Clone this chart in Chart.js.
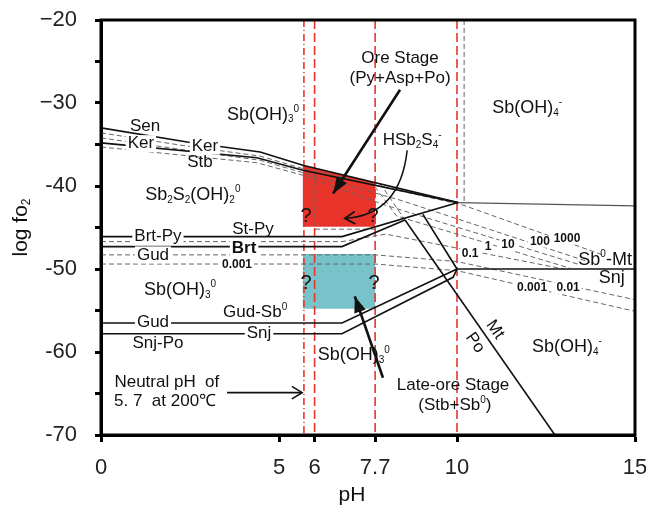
<!DOCTYPE html>
<html>
<head>
<meta charset="utf-8">
<script src="https://cdn.jsdelivr.net/npm/chart.js@4.4.0/dist/chart.umd.min.js"></script>
<style>
html, body { margin: 0; padding: 0; background: #fff; }
</style>
</head>
<body>
<canvas id="diagram" width="646" height="507"></canvas>
<script>
var FONT = '"Liberation Sans", Arial, sans-serif';

// axis ticks
var xTicks = [0, 5, 6, 7.7, 10, 15];
var yTicks = [-20, -25, -30, -35, -40, -45, -50, -55, -60, -65, -70];
var yTickLabels = {"-20": "\u221220", "-30": "\u221230", "-40": "-40", "-50": "-50", "-60": "-60", "-70": "-70"};

// solid phase boundaries [pH, log fO2]
var senLine = [[0, -33.0], [2.42, -34.7], [4.47, -35.9], [5.67, -37.5], [10.03, -42.0]];
var stbLine = [[0, -34.8], [4.38, -36.6], [5.67, -38.1], [10.03, -42.0]];
var stPyLine = [[0, -46.1], [6.77, -46.1], [10.03, -42.0]];
var brtLine = [[0, -47.3], [6.77, -47.3], [8.54, -44.1]];
var mtPoLine = [[8.54, -44.1], [12.75, -70]];
var poSnjLine = [[9.04, -43.4], [10.0, -50.0]];
var gudLine = [[0, -56.5], [6.77, -56.5], [10.0, -50.0]];
var snjLine = [[0, -57.8], [6.77, -57.8], [9.89, -51.0], [10.0, -50.0]];
var topRightLine = [[10.03, -42.0], [15, -42.4]];
var sbMtLine = [[10.0, -50.0], [15, -50.0]];

// dashed activity lines
var dash1000 = [[0, -33.6], [2.42, -35.2], [4.47, -36.4], [5.67, -37.9], [10.17, -42.3], [14.16, -48.4]];
var dash100 = [[0, -34.2], [2.42, -35.7], [4.47, -36.9], [5.67, -38.4], [8.4, -41.7], [13.74, -49.2]];
var dash10 = [[0, -35.3], [4.38, -37.2], [5.67, -38.7], [7.98, -42.3], [13.46, -49.5]];
var dash1 = [[7.7, -40.1], [8.3, -43.6], [13.17, -49.9]];
var dash01 = [[0, -46.7], [6.77, -46.7], [8.0, -45.8], [13.0, -50.0]];
var dash001 = [[0, -48.3], [7.7, -48.3], [10.0, -49.1], [15, -53.7]];
var dash0001 = [[0, -49.4], [7.7, -49.4], [10.0, -50.2], [15, -55.1]];
var dashMt = [[7.84, -39.7], [8.54, -44.1]];
var dashBoxV = [[6.01, -38.5], [6.01, -45.2]];
var dashBoxH = [[6.01, -45.2], [7.7, -45.2]];
var dashPh = [[10.2, -20], [10.2, -42.2]];

// red reference pH lines
var redPh = [5.7, 6.0, 7.7, 10.0];

// ore stage boxes
var oreBox = [[5.67, -37.5], [7.7, -39.6], [7.7, -44.9], [5.67, -44.9]];
var lateBox = [[5.67, -48.2], [7.7, -48.2], [7.7, -54.8], [5.67, -54.8]];

// text labels: text (_ sub, ^ sup), pH, log fO2, size
var labels = [
  ['Sb(OH)_3^0', 4.55, -31.4, 18],
  ['Sb(OH)_4^-', 11.97, -30.6, 18],
  ['Ore Stage', 8.40, -24.6, 17],
  ['(Py+Asp+Po)', 8.40, -27.0, 17],
  ['HSb_2S_4^-', 8.74, -34.5, 17],
  ['Sb_2S_2(OH)_2^0', 2.58, -41.1, 18],
  ['Sen', 1.24, -32.8, 17],
  ['Stb', 2.78, -37.2, 17],
  ['St-Py', 4.27, -45.2, 17],
  ['Sb(OH)_3^0', 2.22, -52.5, 18],
  ['Gud-Sb^0', 4.33, -55.2, 17],
  ['Snj-Po', 1.60, -59.0, 17],
  ['Neutral pH  of', 1.85, -63.7, 17],
  ['5. 7  at 200\u2103', 1.80, -66.0, 17],
  ['Sb(OH)_3^0', 7.10, -60.4, 18],
  ['Late-ore Stage', 9.89, -64.0, 17],
  ['(Stb+Sb^0)', 9.94, -66.4, 17],
  ['Sb(OH)_4^-', 13.09, -59.4, 18],
  ['Sb^0-Mt', 14.16, -48.9, 18],
  ['Snj', 14.35, -51.1, 18],
  ['?', 5.76, -43.7, 20],
  ['?', 7.64, -43.7, 20],
  ['?', 5.76, -51.7, 20],
  ['?', 7.67, -51.7, 20]
];
// labels sitting on a line (white behind them)
var lineLabels = [
  ['Ker', 1.12, -34.9, 17, false],
  ['Ker', 2.92, -35.2, 17, false],
  ['Brt-Py', 1.60, -46.1, 17, false],
  ['Brt', 4.02, -47.5, 17, true],
  ['Gud', 1.46, -48.3, 17, false],
  ['0.001', 3.82, -49.5, 12, true],
  ['Gud', 1.46, -56.4, 17, false],
  ['Snj', 4.44, -57.7, 17, false],
  ['1000', 13.09, -46.3, 12, true],
  ['100', 12.33, -46.7, 12, true],
  ['10', 11.43, -47.1, 12, true],
  ['1', 10.87, -47.3, 12, true],
  ['0.1', 10.37, -48.1, 12, true],
  ['0.001', 12.11, -52.3, 12, true],
  ['0.01', 13.12, -52.3, 12, true]
];
var rotLabels = [['Mt', 11.07, -57.3], ['Po', 10.51, -58.9]];

// arrows: from, to, head type
var arrows = [
  [[8.40, -28.4], [6.52, -40.9], 'solid'],
  [[7.92, -63.1], [7.13, -53.3], 'solid'],
  [[3.54, -64.9], [5.65, -64.9], 'open']
];
var curvedArrow = [[8.60, -35.7], [8.40, -43.5], [6.85, -43.9]];

function pts(a) {
  return a.map(function (p) { return {x: p[0], y: p[1]}; });
}

var datasets = [];
function solid(a) {
  datasets.push({data: pts(a), showLine: true, borderColor: '#111', borderWidth: 1.6, pointRadius: 0, fill: false, order: 0});
}
function dashed(a) {
  datasets.push({data: pts(a), showLine: true, borderColor: '#666', borderWidth: 1, borderDash: [5, 3], pointRadius: 0, fill: false, order: 0});
}
[senLine, stbLine, stPyLine, brtLine, mtPoLine, poSnjLine, gudLine, snjLine, sbMtLine].forEach(solid);
datasets.push({data: pts(topRightLine), showLine: true, borderColor: '#555', borderWidth: 1.3, pointRadius: 0, order: 0});
[dash1000, dash100, dash10, dash1, dash01, dash001, dash0001, dashMt, dashBoxV, dashBoxH, dashPh].forEach(dashed);
redPh.forEach(function (v, i) {
  datasets.push({data: [{x: v, y: -20}, {x: v, y: -70}], showLine: true, borderColor: '#e8352c', borderWidth: 1.6,
    borderDash: i == 0 ? [7, 3, 1, 3] : [9, 4], pointRadius: 0, order: 1});
});
datasets.push({data: pts(oreBox), showLine: true, borderWidth: 0, borderColor: 'rgba(0,0,0,0)', backgroundColor: '#e8342b', fill: 'shape', pointRadius: 0, order: 2});
datasets.push({data: pts(lateBox), showLine: true, borderWidth: 0, borderColor: 'rgba(0,0,0,0)', backgroundColor: '#78c2c9', fill: 'shape', pointRadius: 0, order: 2});

function richParts(s) {
  var parts = [];
  for (var i = 0; i < s.length; i++) {
    var c = s[i];
    if ((c == '_' || c == '^') && i + 1 < s.length) {
      parts.push({t: s[i + 1], k: c});
      i++;
    } else if (parts.length && parts[parts.length - 1].k == 'n') {
      parts[parts.length - 1].t += c;
    } else {
      parts.push({t: c, k: 'n'});
    }
  }
  return parts;
}

function drawRich(ctx, s, x, y, size, bold, bg) {
  var parts = richParts(s);
  var small = Math.round(size * 0.58);
  var w = 0;
  var weight = bold ? 'bold ' : '';
  parts.forEach(function (p) {
    ctx.font = weight + (p.k == 'n' ? size : small) + 'px ' + FONT;
    p.w = ctx.measureText(p.t).width;
    w += p.w;
  });
  var sx = x - w / 2;
  if (bg) {
    ctx.fillStyle = '#fff';
    ctx.fillRect(sx - 2, y - size * 0.5, w + 4, size * 1.0);
  }
  ctx.fillStyle = '#111';
  ctx.textBaseline = 'middle';
  ctx.textAlign = 'left';
  parts.forEach(function (p) {
    ctx.font = weight + (p.k == 'n' ? size : small) + 'px ' + FONT;
    var dy = p.k == '_' ? size * 0.28 : (p.k == '^' ? -size * 0.3 : 0);
    ctx.fillText(p.t, sx, y + dy);
    sx += p.w;
  });
}

function arrowHead(ctx, x1, y1, x2, y2, type) {
  var a = Math.atan2(y2 - y1, x2 - x1);
  ctx.beginPath();
  if (type == 'solid') {
    ctx.moveTo(x2, y2);
    ctx.lineTo(x2 - 16 * Math.cos(a) + 6 * Math.sin(a), y2 - 16 * Math.sin(a) - 6 * Math.cos(a));
    ctx.lineTo(x2 - 16 * Math.cos(a) - 6 * Math.sin(a), y2 - 16 * Math.sin(a) + 6 * Math.cos(a));
    ctx.closePath();
    ctx.fill();
  } else {
    ctx.moveTo(x2 - 12 * Math.cos(a - 0.55), y2 - 12 * Math.sin(a - 0.55));
    ctx.lineTo(x2, y2);
    ctx.lineTo(x2 - 12 * Math.cos(a + 0.55), y2 - 12 * Math.sin(a + 0.55));
    ctx.stroke();
  }
}

var annotations = {
  id: 'annotations',
  afterDatasetsDraw: function (chart) {
    var ctx = chart.ctx, xs = chart.scales.x, ys = chart.scales.y, area = chart.chartArea;
    var px = function (v) { return xs.getPixelForValue(v); };
    var py = function (v) { return ys.getPixelForValue(v); };
    ctx.save();
    lineLabels.forEach(function (l) { drawRich(ctx, l[0], px(l[1]), py(l[2]), l[3], l[4], true); });
    labels.forEach(function (l) { drawRich(ctx, l[0], px(l[1]), py(l[2]), l[3], false, false); });
    rotLabels.forEach(function (l) {
      ctx.save();
      ctx.translate(px(l[1]), py(l[2]));
      ctx.rotate(55 * Math.PI / 180);
      drawRich(ctx, l[0], 0, 0, 17, false, false);
      ctx.restore();
    });

    ctx.strokeStyle = '#111';
    ctx.fillStyle = '#111';
    arrows.forEach(function (a) {
      var x1 = px(a[0][0]), y1 = py(a[0][1]), x2 = px(a[1][0]), y2 = py(a[1][1]);
      ctx.lineWidth = a[2] == 'solid' ? 2.6 : 1.6;
      ctx.beginPath();
      ctx.moveTo(x1, y1);
      ctx.lineTo(x2, y2);
      ctx.stroke();
      arrowHead(ctx, x1, y1, x2, y2, a[2]);
    });
    var c0 = curvedArrow[0], c1 = curvedArrow[1], c2 = curvedArrow[2];
    ctx.lineWidth = 1.5;
    ctx.beginPath();
    ctx.moveTo(px(c0[0]), py(c0[1]));
    ctx.quadraticCurveTo(px(c1[0]), py(c1[1]), px(c2[0]), py(c2[1]));
    ctx.stroke();
    ctx.lineWidth = 1.8;
    arrowHead(ctx, px(c1[0]), py(c1[1]), px(c2[0]), py(c2[1]), 'open');

    // frame
    ctx.lineWidth = 3;
    ctx.strokeStyle = '#000';
    ctx.strokeRect(area.left, area.top, area.right - area.left, area.bottom - area.top);

    // axis titles
    ctx.save();
    ctx.translate(area.left - 80, (area.top + area.bottom) / 2);
    ctx.rotate(-Math.PI / 2);
    drawRich(ctx, 'log fo_2', 0, 0, 21, false, false);
    ctx.restore();
    drawRich(ctx, 'pH', px(7.05), area.bottom + 60, 21, false, false);
    ctx.restore();
  }
};

function noPad(s) {
  s.paddingLeft = 0; s.paddingRight = 0; s.paddingTop = 0; s.paddingBottom = 0;
}

new Chart(document.getElementById('diagram'), {
  type: 'scatter',
  data: {datasets: datasets},
  options: {
    responsive: false,
    animation: false,
    devicePixelRatio: 1,
    layout: {padding: {left: 0, right: 11, top: 20, bottom: 0}},
    plugins: {legend: {display: false}, tooltip: {enabled: false}},
    scales: {
      x: {
        type: 'linear', min: 0, max: 15,
        afterBuildTicks: function (s) { s.ticks = xTicks.map(function (v) { return {value: v}; }); },
        afterFit: function (s) { s.height = 72; noPad(s); },
        grid: {drawOnChartArea: false, drawTicks: true, tickLength: 7, tickWidth: 3, tickColor: '#000'},
        border: {display: true, width: 3, color: '#000'},
        ticks: {font: {family: FONT, size: 22}, color: '#222', padding: 13, maxRotation: 0, autoSkip: false,
          callback: function (v) { return String(v); }}
      },
      y: {
        type: 'linear', min: -70, max: -20,
        afterBuildTicks: function (s) { s.ticks = yTicks.map(function (v) { return {value: v}; }); },
        afterFit: function (s) { s.width = 101; noPad(s); },
        grid: {drawOnChartArea: false, drawTicks: true, tickLength: 6, tickWidth: 3, tickColor: '#000'},
        border: {display: true, width: 3, color: '#000'},
        ticks: {font: {family: FONT, size: 22}, color: '#222', padding: 18, autoSkip: false,
          callback: function (v) { return yTickLabels[String(v)] || ''; }}
      }
    }
  },
  plugins: [annotations]
});
</script>
</body>
</html>
